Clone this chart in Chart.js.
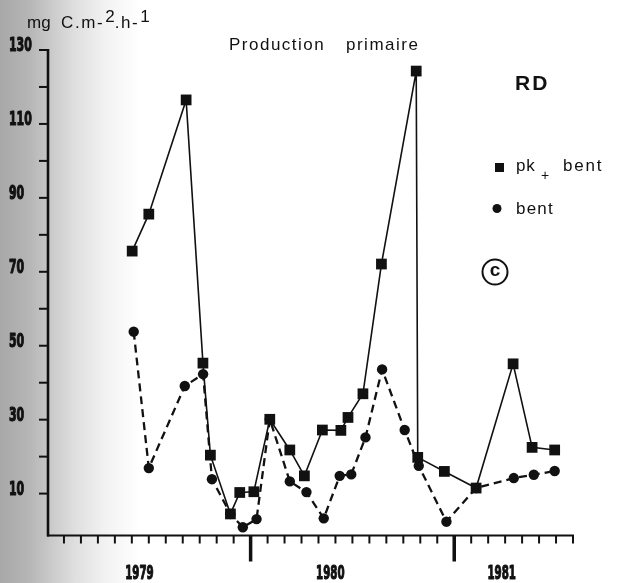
<!DOCTYPE html>
<html>
<head>
<meta charset="utf-8">
<title>Production primaire RD</title>
<script src="https://cdn.jsdelivr.net/npm/chart.js@4.4.0/dist/chart.umd.min.js"></script>
<style>
  html, body { margin: 0; padding: 0; }
  body {
    width: 617px;
    height: 583px;
    overflow: hidden;
    /* grey shading along the left edge of the sheet */
    background: linear-gradient(to right, #a8a8a8 0px, #b6b6b6 30px, #c9c9c9 50px, #dfdfdf 75px, #f2f2f2 105px, #ffffff 140px);
  }
  #wrap { position: relative; width: 617px; height: 583px; }
</style>
</head>
<body>
<div id="wrap"><canvas id="chart"></canvas></div>
<script>
// Months counted from January 1979 (0 = 1 Jan 1979).
const pkMonths = [5.02, 6.0, 8.2, 9.19, 9.63, 10.81, 11.36, 12.19, 13.13, 14.31, 15.17, 16.23,
  17.32, 17.74, 18.62, 19.71, 21.76, 21.85, 23.42, 25.29, 27.47, 28.59, 29.92];
const pkValues = [75.6, 85.6, 116.5, 45.3, 20.4, 4.5, 10.3, 10.5, 30.1, 21.8, 14.8, 27.2,
  27.1, 30.6, 37.0, 72.1, 124.3, 19.8, 16.0, 11.5, 45.1, 22.5, 21.8];

const bentMonths = [5.11, 6.0, 8.12, 9.2, 9.72, 10.81, 11.54, 12.35, 13.13, 14.31, 15.29, 16.31,
  17.25, 17.93, 18.77, 19.75, 21.08, 21.91, 23.54, 25.29, 27.51, 28.69, 29.92];
const bentValues = [53.8, 16.9, 39.1, 42.3, 13.9, 4.5, 0.9, 3.1, 30.1, 13.3, 10.4, 3.3,
  14.8, 15.2, 25.2, 43.6, 27.2, 17.5, 2.4, 11.5, 14.2, 15.1, 16.1];

const yTicks = [10, 20, 30, 40, 50, 60, 70, 80, 90, 100, 110, 120, 130];
const yLabels = [10, 30, 50, 70, 90, 110, 130];
const yearLabels = ["1979", "1980", "1981"];
const yearLabelMonths = [5.45, 16.7, 26.8];
const yearStarts = [12, 24];
const lastMonth = 31;

const INK = "#111";
const SANS = '"Liberation Sans", Arial, "Helvetica", sans-serif';
const NARROW = '"Liberation Sans Narrow", "DejaVu Sans Condensed", sans-serif';

function pts(xs, ys) {
  return xs.map((x, i) => ({ x, y: ys[i] }));
}

// condensed heavy figures used on both axes
function narrowText(ctx, text, x, y, align, squeeze) {
  ctx.save();
  ctx.font = "bold 19px " + NARROW;
  ctx.textBaseline = "middle";
  ctx.textAlign = align;
  ctx.translate(x, y);
  ctx.scale(squeeze, 1);
  ctx.lineWidth = 1.1;
  ctx.lineJoin = "round";
  ctx.strokeText(text, 0, 0);
  ctx.fillText(text, 0, 0);
  ctx.restore();
}

function spaced(ctx, text, x, y, font, spacing) {
  ctx.font = font;
  ctx.letterSpacing = spacing + "px";
  ctx.fillText(text, x, y);
  const w = ctx.measureText(text).width;
  ctx.letterSpacing = "0px";
  return x + w;
}

const frame = {
  id: "frame",
  afterDraw(chart) {
    const { ctx } = chart;
    const xs = chart.scales.x;
    const ys = chart.scales.y;
    const axisX = Math.round(xs.getPixelForValue(0)) + 1;
    const axisY = chart.chartArea.bottom + 0.5;
    const topY = ys.getPixelForValue(130);

    ctx.save();
    ctx.strokeStyle = INK;
    ctx.fillStyle = INK;
    ctx.lineCap = "butt";

    // y axis and its ticks
    ctx.lineWidth = 2.6;
    ctx.beginPath();
    ctx.moveTo(axisX, topY - 1);
    ctx.lineTo(axisX, axisY + 1);
    ctx.stroke();
    ctx.lineWidth = 2;
    for (const v of yTicks) {
      const py = ys.getPixelForValue(v);
      ctx.beginPath();
      ctx.moveTo(axisX - 9, py);
      ctx.lineTo(axisX, py);
      ctx.stroke();
    }
    for (const v of yLabels) {
      narrowText(ctx, String(v), 9, ys.getPixelForValue(v) - 4, "left", 0.64);
    }

    // x axis with one tick per month, long ones at each new year
    ctx.lineWidth = 2.2;
    ctx.beginPath();
    ctx.moveTo(axisX - 1, axisY);
    ctx.lineTo(xs.getPixelForValue(lastMonth) + 1, axisY);
    ctx.stroke();
    for (let m = 1; m <= lastMonth; m++) {
      const px = xs.getPixelForValue(m);
      const major = yearStarts.includes(m);
      ctx.lineWidth = major ? 3.5 : 2;
      ctx.beginPath();
      ctx.moveTo(px, axisY);
      ctx.lineTo(px, axisY + (major ? 26 : 8));
      ctx.stroke();
    }
    yearLabels.forEach((t, i) => {
      narrowText(ctx, t, xs.getPixelForValue(yearLabelMonths[i]), 574, "center", 0.6);
    });

    // unit and title
    ctx.textBaseline = "alphabetic";
    ctx.textAlign = "left";
    const unitFont = "17px " + SANS;
    spaced(ctx, "mg", 27, 28, unitFont, 0);
    let ux = spaced(ctx, "C.m-", 61, 28, unitFont, 1.6);
    ux = spaced(ctx, "2", ux + 1, 22, unitFont, 0);
    ux = spaced(ctx, ".h-", ux, 28, unitFont, 1.6);
    spaced(ctx, "1", ux + 1, 22, unitFont, 0);

    const titleFont = "17px " + SANS;
    spaced(ctx, "Production", 229, 50, titleFont, 1.5);
    spaced(ctx, "primaire", 346, 50, titleFont, 1.5);

    spaced(ctx, "RD", 515, 90, "bold 21px " + SANS, 2);

    // legend
    ctx.fillRect(495, 163, 9, 9);
    const legFont = "17px " + SANS;
    spaced(ctx, "pk", 516, 171, legFont, 0.8);
    spaced(ctx, "+", 541, 180, "14px " + SANS, 0);
    spaced(ctx, "bent", 563, 171, legFont, 1.8);
    ctx.beginPath();
    ctx.arc(497, 208.5, 4.5, 0, Math.PI * 2);
    ctx.fill();
    spaced(ctx, "bent", 516, 214, legFont, 1.2);

    // panel letter
    ctx.lineWidth = 2;
    ctx.beginPath();
    ctx.arc(495, 272, 12.5, 0, Math.PI * 2);
    ctx.stroke();
    ctx.textAlign = "center";
    ctx.textBaseline = "middle";
    ctx.font = "bold 19px " + SANS;
    ctx.fillText("c", 495, 271);

    ctx.restore();
  },
};

new Chart(document.getElementById("chart"), {
  type: "line",
  data: {
    datasets: [
      {
        label: "pk + bent",
        data: pts(pkMonths, pkValues),
        borderColor: INK,
        borderWidth: 1.6,
        pointStyle: "rect",
        pointRadius: 7.6,
        pointBackgroundColor: INK,
        pointBorderWidth: 0,
        tension: 0,
      },
      {
        label: "bent",
        data: pts(bentMonths, bentValues),
        borderColor: INK,
        borderWidth: 2.3,
        borderDash: [8, 5],
        pointStyle: "circle",
        pointRadius: 5.2,
        pointBackgroundColor: INK,
        pointBorderWidth: 0,
        tension: 0,
      },
    ],
  },
  options: {
    responsive: true,
    maintainAspectRatio: false,
    animation: false,
    layout: { padding: { left: 47, right: 44, top: 50, bottom: 48 } },
    scales: {
      x: { type: "linear", min: 0, max: lastMonth, display: false },
      y: { min: -1.2, max: 130, display: false },
    },
    plugins: { legend: { display: false }, tooltip: { enabled: false } },
  },
  plugins: [frame],
});
</script>
</body>
</html>
